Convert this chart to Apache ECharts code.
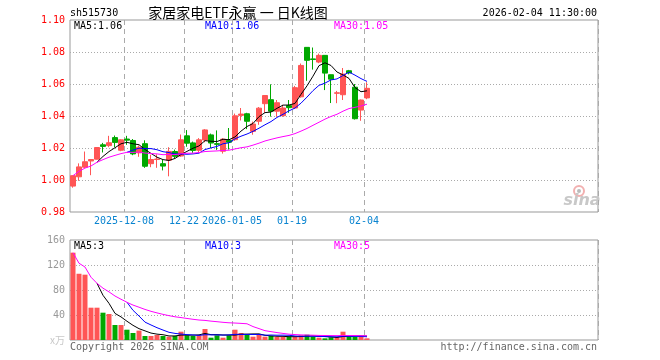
<!DOCTYPE html>
<html><head><meta charset="utf-8">
<script src="https://cdn.jsdelivr.net/npm/echarts@6/dist/echarts.min.js"></script>
<style>html,body{margin:0;padding:0;background:#fff}#c{width:660px;height:360px}</style>
</head><body><div id="c"></div>
<script>
// ---- data ----
const dates = ['2025-11-25','2025-11-26','2025-11-27','2025-11-28','2025-12-01','2025-12-02','2025-12-03','2025-12-04','2025-12-05',
'2025-12-08','2025-12-09','2025-12-10','2025-12-11','2025-12-12','2025-12-15','2025-12-16','2025-12-17','2025-12-18','2025-12-19',
'2025-12-22','2025-12-23','2025-12-24','2025-12-25','2025-12-26','2025-12-29','2025-12-30','2025-12-31',
'2026-01-05','2026-01-06','2026-01-07','2026-01-08','2026-01-09','2026-01-12','2026-01-13','2026-01-14','2026-01-15','2026-01-16',
'2026-01-19','2026-01-20','2026-01-21','2026-01-22','2026-01-23','2026-01-26','2026-01-27','2026-01-28','2026-01-29','2026-01-30',
'2026-02-02','2026-02-03','2026-02-04'];
// [open, close, low, high]
const ohlc = [
[0.9962,1.0027,0.9952,1.0028],[1.0020,1.0082,0.9995,1.0104],[1.0080,1.0114,1.0075,1.0178],[1.0119,1.0128,1.0030,1.0130],
[1.0130,1.0203,1.0128,1.0206],[1.0220,1.0210,1.0172,1.0232],[1.0215,1.0233,1.0205,1.0276],[1.0265,1.0235,1.0205,1.0278],
[1.0186,1.0251,1.0180,1.0255],[1.0256,1.0249,1.0220,1.0276],[1.0247,1.0163,1.0155,1.0256],[1.0170,1.0205,1.0145,1.0215],
[1.0227,1.0086,1.0076,1.0248],[1.0102,1.0128,1.0080,1.0158],[1.0128,1.0131,1.0076,1.0160],[1.0102,1.0087,1.0060,1.0125],
[1.0124,1.0179,1.0023,1.0205],[1.0178,1.0148,1.0135,1.0190],[1.0150,1.0251,1.0145,1.0284],[1.0276,1.0230,1.0208,1.0312],
[1.0232,1.0185,1.0170,1.0240],[1.0186,1.0251,1.0170,1.0262],[1.0250,1.0313,1.0236,1.0318],[1.0282,1.0231,1.0200,1.0290],
[1.0227,1.0223,1.0188,1.0310],[1.0180,1.0255,1.0165,1.0262],[1.0248,1.0236,1.0190,1.0325],[1.0252,1.0401,1.0245,1.0415],
[1.0404,1.0412,1.0372,1.0450],[1.0414,1.0367,1.0318,1.0420],[1.0304,1.0350,1.0283,1.0365],[1.0367,1.0449,1.0345,1.0456],
[1.0477,1.0528,1.0420,1.0530],[1.0502,1.0430,1.0396,1.0598],[1.0430,1.0483,1.0395,1.0500],[1.0402,1.0450,1.0395,1.0470],
[1.0465,1.0452,1.0420,1.0500],[1.0450,1.0577,1.0445,1.0588],[1.0520,1.0716,1.0515,1.0728],[1.0829,1.0748,1.0620,1.0830],
[1.0757,1.0753,1.0690,1.0828],[1.0737,1.0779,1.0730,1.0790],[1.0779,1.0668,1.0562,1.0780],[1.0658,1.0630,1.0481,1.0659],
[1.0542,1.0545,1.0480,1.0557],[1.0533,1.0662,1.0500,1.0700],[1.0683,1.0669,1.0660,1.0688],[1.0580,1.0383,1.0378,1.0600],
[1.0437,1.0500,1.0370,1.0503],[1.0513,1.0573,1.0505,1.0611]];
const volumes = [139.7,106,104.5,51.7,51.7,43.7,41.6,24,24,16.5,11.2,15,6.4,6.4,8,6.4,5.3,6.4,13.3,7.5,
6.4,7.5,17.6,3.7,7.5,3.7,7.5,16.5,11.2,8,5.3,8,5.3,6.4,4.8,4.8,5.3,5.3,7.5,8.5,5.3,3.7,2.7,4.3,4.3,13.3,4.8,4.8,5.3,2.7];
const tickIndex = [9,19,27,37,49];
const tickText = ['2025-12-08','12-22','2026-01-05','01-19','02-04'];
const priceMin = 0.98, priceMax = 1.10, priceStep = 0.02;
const volMin = 0, volMax = 160, volStep = 40;
const maLabels = ['MA5:1.06','MA10:1.06','MA30:1.05'];
const volMaLabels = ['MA5:3','MA10:3','MA30:5'];
const TOTAL_SLOTS = 88;

// ---- build ----
const UP = '#ff5555', DOWN = '#00a800';
const slots = dates.concat(Array.from({length: TOTAL_SLOTS - dates.length}, (_, k) => '#' + k));
function ma(arr, n, expanding) {
  return arr.map((_, i) => {
    if (i < n - 1 && !expanding) return '-';
    const s = Math.max(0, i - n + 1);
    let sum = 0; for (let j = s; j <= i; j++) sum += arr[j];
    return +(sum / (i - s + 1)).toFixed(5);
  });
}
const closes = ohlc.map(d => d[1]);
const isTick = (i) => tickIndex.indexOf(i) >= 0;
const mono = 'DejaVu Sans Mono';

function xAxis(gi, labels) {
  return {
    type: 'category', gridIndex: gi, data: slots, boundaryGap: true,
    axisLine: {show: false}, axisTick: {show: false},
    axisLabel: {
      show: labels, interval: (i) => isTick(i), margin: 4,
      formatter: (v, i) => '{a|' + tickText[tickIndex.indexOf(i)] + '}',
      rich: {a: {color: '#0a84d0', fontFamily: mono, fontSize: 10, padding: [0, 6, 0, 0]}}
    },
    splitLine: {show: true, interval: (i) => isTick(i), lineStyle: {color: '#aaa', width: 1, type: [5, 4]}}
  };
}
const lineS = (data, color, xi, yi) => ({
  type: 'line', data, xAxisIndex: xi, yAxisIndex: yi, symbol: 'none', showSymbol: false,
  lineStyle: {color, width: 1}, itemStyle: {color}, z: 5, silent: true
});
const txt = (x, y, text, color, align, size, font) => ({
  type: 'text', x, y, silent: true,
  style: {text, fill: color, font: (size || 10) + 'px "' + (font || mono) + '"', textAlign: align || 'left', textVerticalAlign: 'middle'}
});

const chart = echarts.init(document.getElementById('c'));
chart.setOption({
  animation: false,
  grid: [
    {left: 70, top: 20, width: 528, height: 192, show: true, borderColor: '#999', borderWidth: 1, backgroundColor: 'transparent'},
    {left: 70, top: 240, width: 528, height: 100, show: true, borderColor: '#999', borderWidth: 1, backgroundColor: 'transparent'}
  ],
  xAxis: [xAxis(0, true), xAxis(1, false)],
  yAxis: [
    {type: 'value', gridIndex: 0, min: priceMin, max: priceMax, interval: priceStep,
     axisLine: {show: false}, axisTick: {show: false},
     axisLabel: {color: '#ff0000', fontFamily: mono, fontSize: 10, margin: 5, formatter: v => v.toFixed(2)},
     splitLine: {show: true, showMinLine: false, showMaxLine: false, lineStyle: {color: '#aaa', type: [1, 2]}}},
    {type: 'value', gridIndex: 1, min: volMin, max: volMax, interval: volStep,
     axisLine: {show: false}, axisTick: {show: false},
     axisLabel: {color: '#999', fontFamily: mono, fontSize: 10, margin: 5,
       formatter: v => v === 0 ? '{u|x万}' : String(v),
       rich: {u: {color: '#c8c8c8', fontSize: 10, fontFamily: 'Noto Sans CJK SC'}}},
     splitLine: {show: true, showMinLine: false, showMaxLine: false, lineStyle: {color: '#aaa', type: [1, 2]}}}
  ],
  series: [
    {type: 'candlestick', xAxisIndex: 0, yAxisIndex: 0, data: ohlc, barWidth: 5,
     itemStyle: {color: UP, color0: DOWN, borderColor: UP, borderColor0: DOWN, borderWidth: 1}, z: 3},
    lineS(ma(closes, 5), '#000000', 0, 0),
    lineS(ma(closes, 10), '#0000ff', 0, 0),
    lineS(ma(closes, 30, true), '#ff00ff', 0, 0),
    {type: 'bar', xAxisIndex: 1, yAxisIndex: 1, barWidth: 5, z: 3,
     data: volumes.map((v, i) => ({value: v, itemStyle: {color: ohlc[i][1] >= ohlc[i][0] ? UP : DOWN}}))},
    lineS(ma(volumes, 5), '#000000', 1, 1),
    lineS(ma(volumes, 10), '#0000ff', 1, 1),
    lineS(ma(volumes, 30, true), '#ff00ff', 1, 1)
  ],
  graphic: [
    txt(70, 13, 'sh515730', '#000'),
    txt(238, 13, '家居家电ETF永赢 一 日K线图', '#000', 'center', 14, 'Noto Sans CJK SC'),
    txt(597, 13, '2026-02-04 11:30:00', '#000', 'right'),
    txt(74, 26, maLabels[0], '#000'),
    txt(205, 26, maLabels[1], '#0000ff'),
    txt(334, 26, maLabels[2], '#ff00ff'),
    txt(74, 246, volMaLabels[0], '#000'),
    txt(205, 246, volMaLabels[1], '#0000ff'),
    txt(334, 246, volMaLabels[2], '#ff00ff'),
    txt(70, 347, 'Copyright 2026 SINA.COM', '#666'),
    txt(597, 347, 'http://finance.sina.com.cn', '#666', 'right'),
    {type: 'circle', shape: {cx: 579, cy: 191, r: 5}, silent: true, style: {fill: 'none', stroke: '#f2b0b0', lineWidth: 2}},
    {type: 'circle', shape: {cx: 579, cy: 191, r: 2}, silent: true, style: {fill: '#bbb'}},
    {type: 'text', x: 582, y: 201, silent: true,
     style: {text: 'sina', fill: '#c8c8c8', font: 'italic bold 16px "DejaVu Sans"', textAlign: 'center', textVerticalAlign: 'middle'}}
  ]
});
</script></body></html>
